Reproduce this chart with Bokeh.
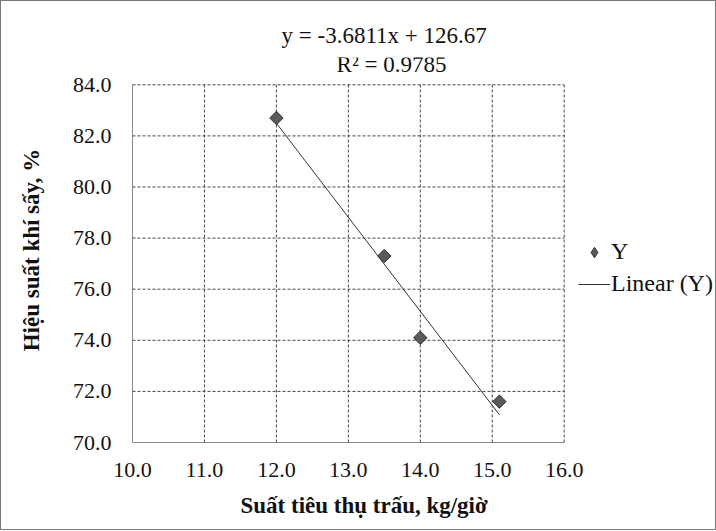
import numpy as np
from bokeh.plotting import figure
from bokeh.models import Legend, LegendItem, FixedTicker, Range1d, NumeralTickFormatter, Label, Title
from bokeh.embed import file_html
from bokeh.resources import INLINE

# data
x_vals = [12.0, 13.5, 14.0, 15.1]
y_vals = [82.7, 77.3, 74.1, 71.6]
x_ticks = [10, 11, 12, 13, 14, 15, 16]
y_ticks = [70, 72, 74, 76, 78, 80, 82, 84]
slope = -3.6811
intercept = 126.67
eq_text = "y = -3.6811x + 126.67"
r2_text = "R\u00b2 = 0.9785"
x_label = "Su\u1ea5t ti\u00eau th\u1ee5 tr\u1ea5u, kg/gi\u1edd"
y_label = "Hi\u1ec7u su\u1ea5t kh\u00ed s\u1ea5y, %"

FONT = "Liberation Serif"
INK = "#111111"

W, H = 716, 530
LEFT, TOP, BOTTOM = 131, 56, 89
px_x = 71.95   # pixels per x unit
px_y = 25.55   # pixels per y unit
x0, x1 = x_ticks[0], x_ticks[-1]
y0, y1 = y_ticks[0], y_ticks[-1]
x_end = x0 + (W - LEFT) / px_x
y_end = y0 + (H - BOTTOM - TOP) / px_y

p = figure(width=W, height=H, output_backend="svg", toolbar_location=None,
           title_location=None,
           x_range=Range1d(x0, x_end), y_range=Range1d(y0, y_end),
           min_border_left=LEFT, min_border_right=0, min_border_top=TOP, min_border_bottom=BOTTOM)
p.outline_line_color = None
p.xgrid.visible = False
p.ygrid.visible = False
p.styles = {"border": "1px solid #777777", "box-sizing": "border-box"}

for ax in (p.xaxis[0], p.yaxis[0]):
    ax.major_tick_line_color = None
    ax.minor_tick_line_color = None
    ax.axis_line_color = "#888888"
    ax.major_label_text_font = FONT
    ax.major_label_text_font_size = "22px"
    ax.major_label_text_color = INK
    ax.axis_label_text_font = FONT
    ax.axis_label_text_font_style = "bold"
    ax.axis_label_text_font_size = "23px"
    ax.axis_label_text_color = INK

p.xaxis.ticker = FixedTicker(ticks=x_ticks)
p.yaxis.ticker = FixedTicker(ticks=y_ticks)
p.xaxis.bounds = (x0, x1)
p.yaxis.bounds = (y0, y1)
p.xaxis.formatter = NumeralTickFormatter(format="0.0")
p.yaxis.formatter = NumeralTickFormatter(format="0.0")
p.yaxis.axis_label = y_label
p.xaxis.major_label_standoff = 14
p.yaxis.major_label_standoff = 15
p.yaxis.axis_label_standoff = 26

# dashed grid over the plot area
gx = [t for t in x_ticks if t != x0]
gy = [t for t in y_ticks if t != y0]
p.segment(x0=gx, y0=[y0] * len(gx), x1=gx, y1=[y1] * len(gx),
          line_color="#444444", line_dash="3 2", line_width=1)
p.segment(x0=[x0] * len(gy), y0=gy, x1=[x1] * len(gy), y1=gy,
          line_color="#444444", line_dash="3 2", line_width=1)

# trendline from the stated equation over the data span
tx = np.array([min(x_vals), max(x_vals)])
ty = slope * tx + intercept
line_r = p.line(tx, ty, line_color="#333333", line_width=1)
# diamond swatch renderer (hidden under the point markers) used for the legend key
key_r = p.scatter(x_vals, y_vals, marker="diamond", size=12,
                  fill_color="#5a5a5a", line_color="#333333", line_width=1)
pts_r = p.scatter(x_vals, y_vals, marker="square", angle=np.pi / 4, size=9.5,
                  fill_color="#5a5a5a", line_color="#333333", line_width=1)

legend = Legend(items=[LegendItem(label="Y", renderers=[key_r]),
                       LegendItem(label="Linear (Y)", renderers=[line_r])],
                location=(446, 145), orientation="vertical")
legend.background_fill_alpha = 0
legend.border_line_color = None
legend.padding = 0
legend.margin = 0
legend.spacing = 5
legend.glyph_width = 32
legend.glyph_height = 26
legend.label_height = 26
legend.label_standoff = 1
legend.label_text_font = FONT
legend.label_text_font_size = "24px"
legend.label_text_color = INK
p.add_layout(legend, "center")

p.add_layout(Label(x=13.6, y=84.81, text=r2_text, text_align="center", text_baseline="middle",
                   text_font=FONT, text_font_size="23px", text_color=INK))

t_eq = Title(text=eq_text, align="left", offset=149, standoff=20,
             text_font=FONT, text_font_size="23px", text_font_style="normal", text_color=INK)
p.add_layout(t_eq, "above")

t_x = Title(text=x_label, align="left", offset=108, standoff=22,
            text_font=FONT, text_font_size="23px", text_font_style="bold", text_color=INK)
p.add_layout(t_x, "below")

open("out.html", "w").write(file_html(p, INLINE))
